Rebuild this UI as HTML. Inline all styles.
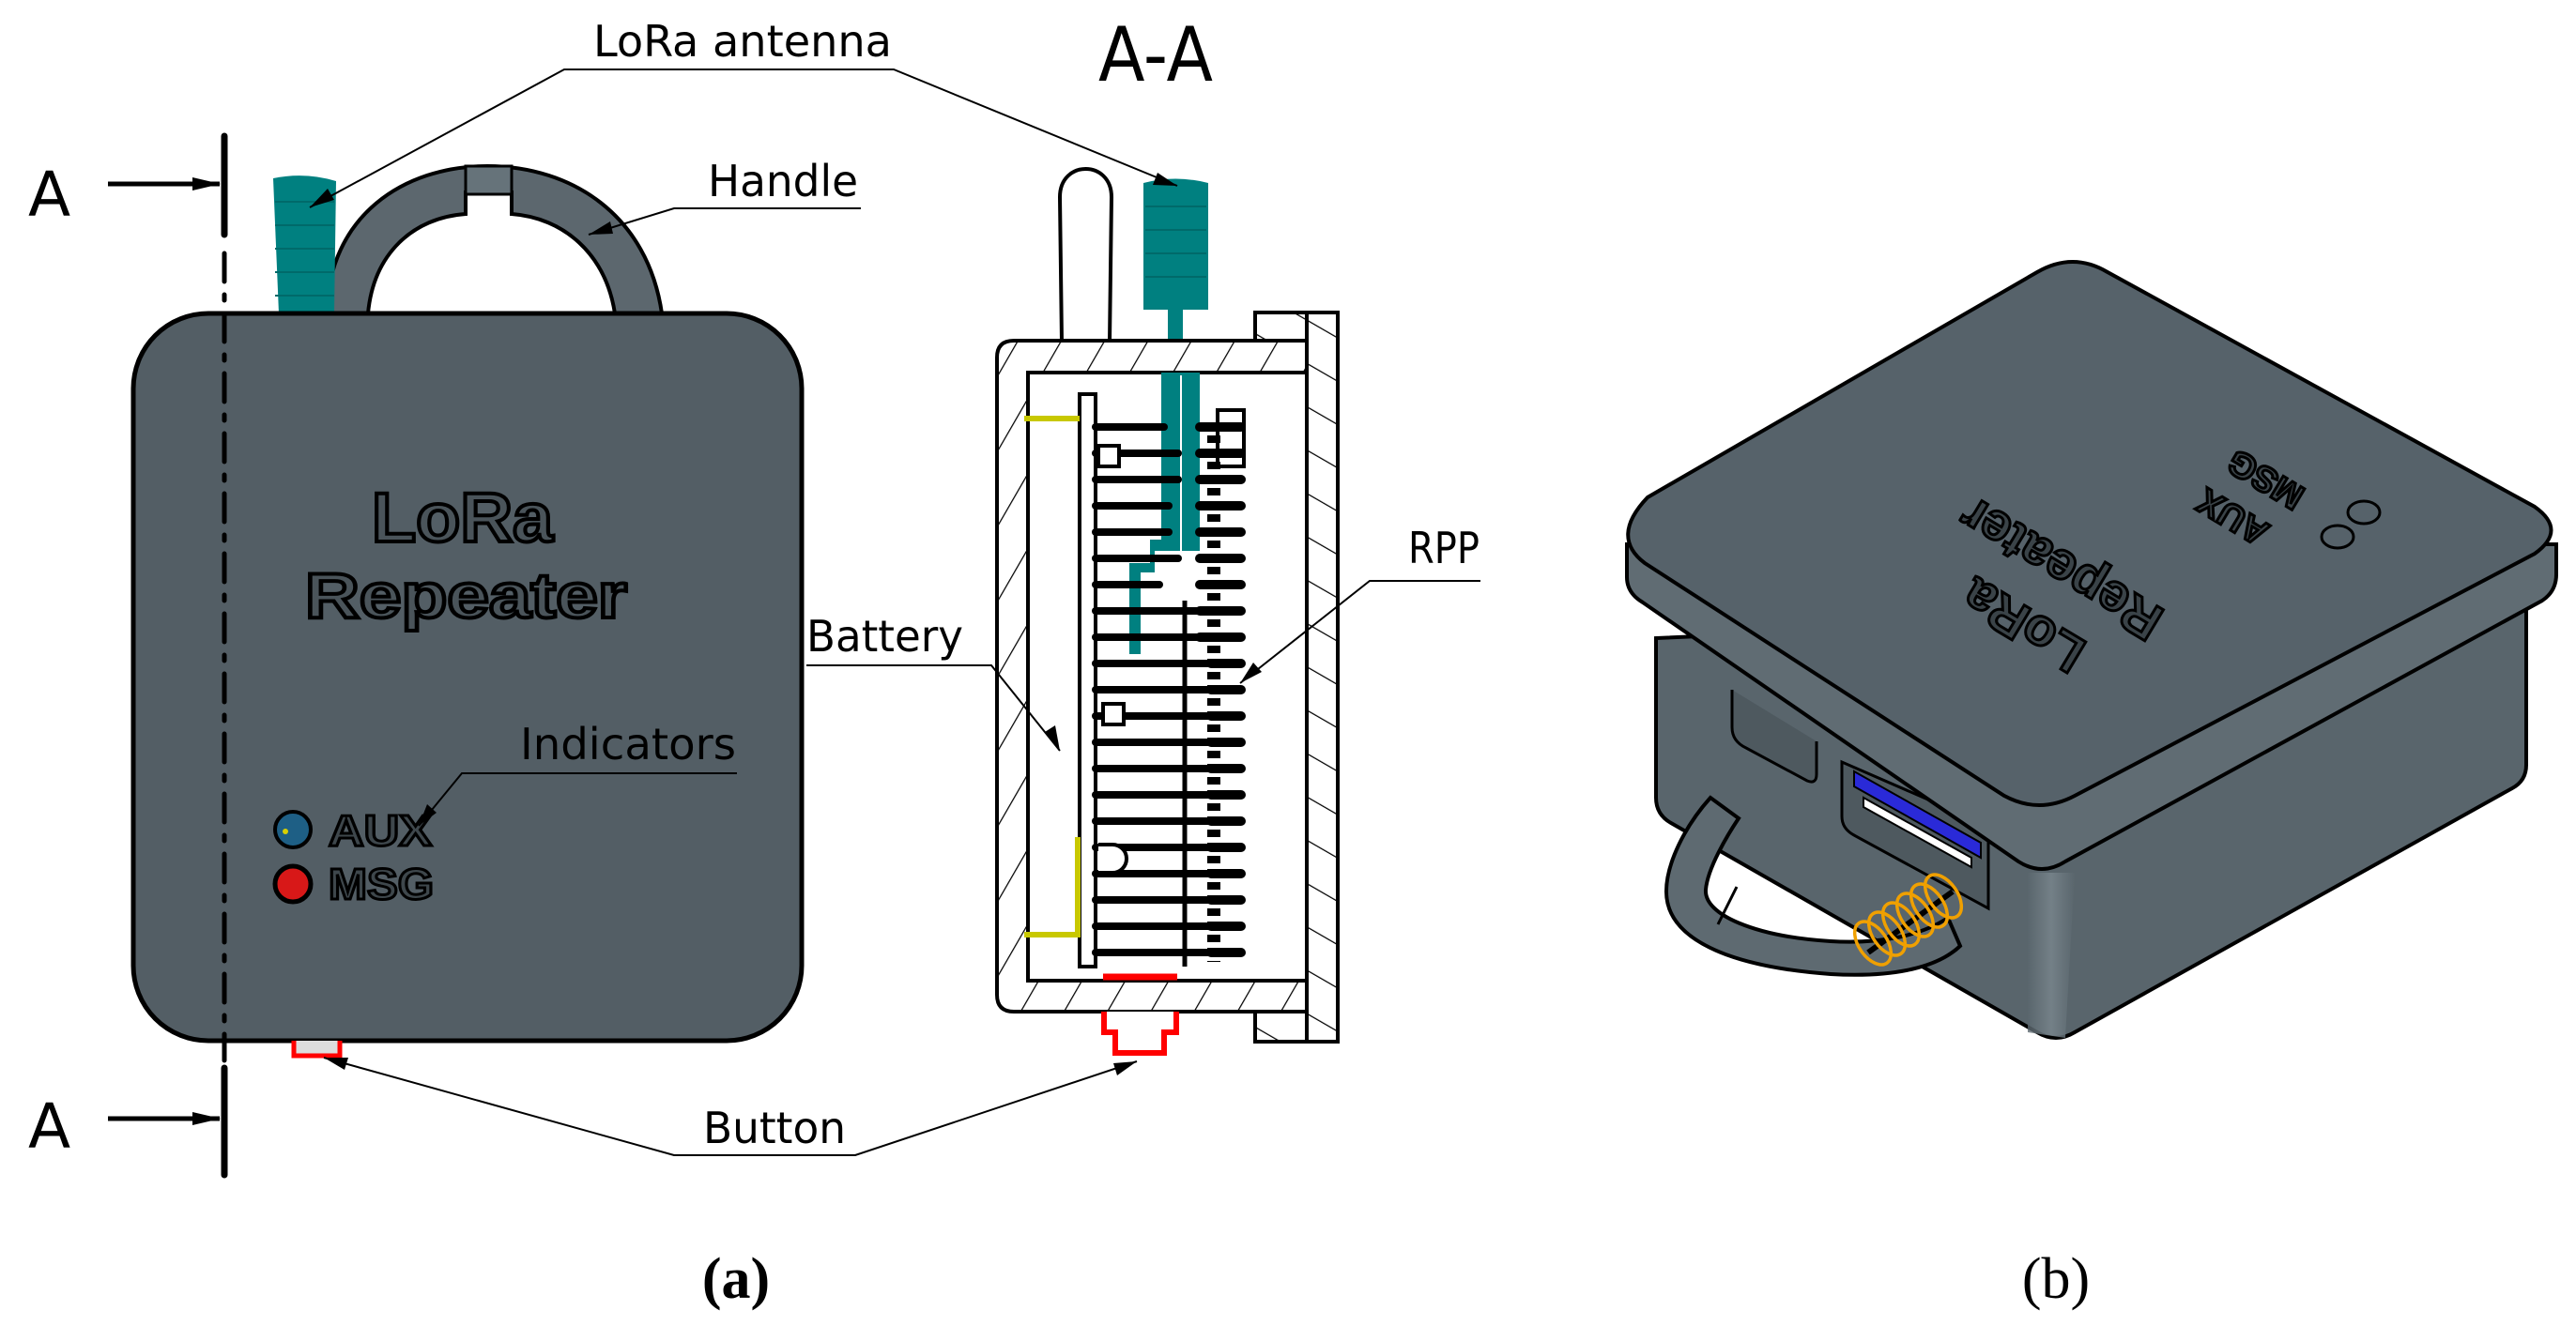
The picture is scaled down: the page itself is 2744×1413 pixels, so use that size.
<!DOCTYPE html>
<html><head><meta charset="utf-8"><style>
html,body{margin:0;padding:0;background:#fff;}
svg{display:block;}
.lbl{font-family:"DejaVu Sans Condensed","DejaVu Sans","Liberation Sans",sans-serif;font-size:46px;fill:#000;}
</style></head><body>
<svg width="2744" height="1413" viewBox="0 0 2744 1413" xmlns="http://www.w3.org/2000/svg">
<defs>
<pattern id="hatch" patternUnits="userSpaceOnUse" width="40" height="40" patternTransform="rotate(30)">
<rect width="40" height="40" fill="#fff"/>
<line x1="0" y1="0" x2="0" y2="40" stroke="#000" stroke-width="2.5"/>
</pattern>
<pattern id="hatch2" patternUnits="userSpaceOnUse" width="40" height="40" patternTransform="rotate(-60)">
<rect width="40" height="40" fill="#fff"/>
<line x1="0" y1="0" x2="0" y2="40" stroke="#000" stroke-width="2.5"/>
</pattern>
<marker id="arb" markerWidth="30" markerHeight="14" refX="29" refY="7" orient="auto" markerUnits="userSpaceOnUse" viewBox="0 0 30 14">
<path d="M0,0 L30,7 L0,14 Z" fill="#000"/>
</marker>
<linearGradient id="shade" x1="0" x2="1" y1="0" y2="0">
<stop offset="0" stop-color="#5a666d"/><stop offset="0.5" stop-color="#7a878e"/><stop offset="1" stop-color="#5a666d"/>
</linearGradient>
</defs>

<!-- ===== Front view ===== -->
<path d="M348,334 C350,230 430,177 519,177 C610,177 690,230 705,334 L655,334 C645,270 600,232 545,228 L545,205 L496,205 L496,228 C440,232 398,270 392,334 Z" fill="#5c676e" stroke="#000" stroke-width="4"/>
<rect x="496" y="177" width="49" height="30" fill="#66737a" stroke="#000" stroke-width="3"/>
<path d="M291,190 Q325,183 358,193 L356,334 L297,334 Z" fill="#008080"/>
<g stroke="#006a6a" stroke-width="2">
<line x1="293" y1="215" x2="356" y2="215"/><line x1="293" y1="240" x2="356" y2="240"/><line x1="293" y1="265" x2="356" y2="265"/><line x1="293" y1="290" x2="356" y2="290"/><line x1="293" y1="315" x2="356" y2="315"/>
</g>
<rect x="142" y="334" width="712" height="775" rx="80" ry="80" fill="#535e65" stroke="#000" stroke-width="5"/>
<text x="396" y="577" textLength="193" lengthAdjust="spacingAndGlyphs" font-family="Liberation Sans,sans-serif" font-weight="bold" font-size="74" fill="#4a545a" stroke="#000" stroke-width="4">LoRa</text>
<text x="325" y="658" textLength="343" lengthAdjust="spacingAndGlyphs" font-family="Liberation Sans,sans-serif" font-weight="bold" font-size="68" fill="#4a545a" stroke="#000" stroke-width="4">Repeater</text>
<circle cx="312" cy="884" r="19" fill="#1e5f85" stroke="#000" stroke-width="4"/>
<circle cx="304" cy="886" r="3" fill="#d8d000"/>
<circle cx="312" cy="942" r="19" fill="#d81818" stroke="#000" stroke-width="5"/>
<text x="350" y="901" textLength="110" lengthAdjust="spacingAndGlyphs" font-family="Liberation Sans,sans-serif" font-weight="bold" font-size="46" fill="#3e474c" stroke="#000" stroke-width="3">AUX</text>
<text x="350" y="958" textLength="112" lengthAdjust="spacingAndGlyphs" font-family="Liberation Sans,sans-serif" font-weight="bold" font-size="46" fill="#3e474c" stroke="#000" stroke-width="3">MSG</text>
<path d="M313,1109 L313,1125 L362,1125 L362,1109" fill="#ddd" stroke="#f00" stroke-width="5"/>
<line x1="239" y1="145" x2="239" y2="250" stroke="#000" stroke-width="7" stroke-linecap="round"/>
<line x1="239" y1="270" x2="239" y2="1130" stroke="#000" stroke-width="5" stroke-dasharray="30,14,6,14" stroke-linecap="round"/>
<line x1="239" y1="1138" x2="239" y2="1252" stroke="#000" stroke-width="7" stroke-linecap="round"/>
<line x1="115" y1="196" x2="234" y2="196" stroke="#000" stroke-width="5" marker-end="url(#arb)"/>
<line x1="115" y1="1192" x2="234" y2="1192" stroke="#000" stroke-width="5" marker-end="url(#arb)"/>
<text x="30" y="230" font-family="DejaVu Sans,sans-serif" font-size="66" fill="#000">A</text>
<text x="30" y="1223" font-family="DejaVu Sans,sans-serif" font-size="66" fill="#000">A</text>

<!-- ===== Section A-A ===== -->
<path d="M1131,365 L1129,210 C1129,170 1184,170 1184,210 L1182,365" fill="#fff" stroke="#000" stroke-width="4"/>
<path d="M1218,195 Q1252,186 1287,195 L1287,330 L1218,330 Z" fill="#008080"/>
<g stroke="#006a6a" stroke-width="2">
<line x1="1220" y1="220" x2="1285" y2="220"/><line x1="1220" y1="245" x2="1285" y2="245"/><line x1="1220" y1="270" x2="1285" y2="270"/><line x1="1220" y1="295" x2="1285" y2="295"/>
</g>
<rect x="1244" y="325" width="16" height="42" fill="#008080"/>
<rect x="1337" y="333" width="88" height="777" fill="url(#hatch2)" stroke="#000" stroke-width="4"/>
<path d="M1080,363 L1392,363 L1392,1078 L1080,1078 Q1062,1078 1062,1060 L1062,381 Q1062,363 1080,363 Z" fill="url(#hatch)" stroke="#000" stroke-width="4"/>
<rect x="1095" y="397" width="297" height="648" fill="#fff" stroke="#000" stroke-width="4"/>
<line x1="1392" y1="333" x2="1392" y2="1110" stroke="#000" stroke-width="4"/>
<path d="M1237,397 L1278,397 L1278,587 L1230,587 L1230,610 L1215,610 L1215,697 L1203,697 L1203,600 L1225,600 L1225,575 L1237,575 Z" fill="#008080"/>
<line x1="1258" y1="400" x2="1258" y2="640" stroke="#fff" stroke-width="2"/>
<rect x="1150" y="420" width="17" height="610" fill="#fff" stroke="#000" stroke-width="4"/>
<g stroke="#000" stroke-width="8" stroke-linecap="round">
<line x1="1167" y1="455" x2="1240" y2="455"/><line x1="1167" y1="483" x2="1255" y2="483"/><line x1="1167" y1="511" x2="1255" y2="511"/>
<line x1="1167" y1="539" x2="1245" y2="539"/><line x1="1167" y1="567" x2="1245" y2="567"/><line x1="1167" y1="595" x2="1255" y2="595"/>
<line x1="1167" y1="623" x2="1235" y2="623"/><line x1="1167" y1="651" x2="1285" y2="651"/><line x1="1167" y1="679" x2="1285" y2="679"/>
<line x1="1167" y1="707" x2="1290" y2="707"/><line x1="1167" y1="735" x2="1290" y2="735"/><line x1="1167" y1="763" x2="1290" y2="763"/>
<line x1="1167" y1="791" x2="1290" y2="791"/><line x1="1167" y1="819" x2="1290" y2="819"/><line x1="1167" y1="847" x2="1290" y2="847"/>
<line x1="1167" y1="875" x2="1290" y2="875"/><line x1="1167" y1="903" x2="1290" y2="903"/><line x1="1167" y1="931" x2="1290" y2="931"/>
<line x1="1167" y1="959" x2="1290" y2="959"/><line x1="1167" y1="987" x2="1290" y2="987"/><line x1="1167" y1="1015" x2="1290" y2="1015"/>
</g>
<g stroke="#000" stroke-width="10" stroke-linecap="round">
<line x1="1278" y1="455" x2="1322" y2="455"/><line x1="1278" y1="483" x2="1322" y2="483"/><line x1="1278" y1="511" x2="1322" y2="511"/><line x1="1278" y1="539" x2="1322" y2="539"/><line x1="1278" y1="567" x2="1322" y2="567"/><line x1="1278" y1="595" x2="1322" y2="595"/><line x1="1278" y1="623" x2="1322" y2="623"/><line x1="1278" y1="651" x2="1322" y2="651"/><line x1="1278" y1="679" x2="1322" y2="679"/><line x1="1290" y1="707" x2="1322" y2="707"/><line x1="1290" y1="735" x2="1322" y2="735"/><line x1="1290" y1="763" x2="1322" y2="763"/><line x1="1290" y1="791" x2="1322" y2="791"/><line x1="1290" y1="819" x2="1322" y2="819"/><line x1="1290" y1="847" x2="1322" y2="847"/><line x1="1290" y1="875" x2="1322" y2="875"/><line x1="1290" y1="903" x2="1322" y2="903"/><line x1="1290" y1="931" x2="1322" y2="931"/><line x1="1290" y1="959" x2="1322" y2="959"/><line x1="1290" y1="987" x2="1322" y2="987"/><line x1="1290" y1="1015" x2="1322" y2="1015"/>
</g>
<line x1="1293" y1="450" x2="1293" y2="1025" stroke="#000" stroke-width="14" stroke-dasharray="8,6"/>
<line x1="1262" y1="640" x2="1262" y2="1030" stroke="#000" stroke-width="5"/>
<rect x="1297" y="437" width="28" height="60" fill="none" stroke="#000" stroke-width="4"/>
<rect x="1170" y="475" width="22" height="22" fill="#fff" stroke="#000" stroke-width="4"/>
<rect x="1175" y="750" width="22" height="22" fill="#fff" stroke="#000" stroke-width="4"/>
<path d="M1170,900 L1185,900 A15,15 0 0 1 1185,930 L1170,930" fill="#fff" stroke="#000" stroke-width="4"/>
<line x1="1091" y1="446" x2="1150" y2="446" stroke="#c8c800" stroke-width="6"/>
<path d="M1148,892 L1148,996 L1091,996" fill="none" stroke="#c8c800" stroke-width="6"/>
<line x1="1175" y1="1041" x2="1254" y2="1041" stroke="#f00" stroke-width="7"/>
<path d="M1176,1078 L1176,1100 L1188,1100 L1188,1122 L1240,1122 L1240,1100 L1253,1100 L1253,1078" fill="#fff" stroke="#f00" stroke-width="6"/>
<text x="1170" y="86" font-family="DejaVu Sans,sans-serif" font-size="80" fill="#000" textLength="122" lengthAdjust="spacingAndGlyphs">A-A</text>

<!-- ===== Labels & leaders ===== -->
<g fill="none" stroke="#000" stroke-width="2">
<polyline points="330,221 601,74 952,74 1254,198" />
<polyline points="627,250 718,222 917,222"/>
<polyline points="446,880 492,824 785,824"/>
<polyline points="859,709 1056,709 1129,800"/>
<polyline points="345,1127 718,1231 911,1231 1211,1131"/>
<polyline points="1577,619 1459,619 1321,728"/>
</g>
<g fill="#000">
<path d="M330,221 L349,201 L356,213 Z"/>
<path d="M1254,198 L1228,197 L1233,184 Z"/>
<path d="M627,250 L650,236 L653,249 Z"/>
<path d="M446,880 L455,857 L465,866 Z"/>
<path d="M1129,800 L1113,780 L1124,773 Z"/>
<path d="M345,1127 L371,1127 L367,1140 Z"/>
<path d="M1211,1131 L1190,1146 L1186,1133 Z"/>
<path d="M1321,728 L1335,706 L1344,716 Z"/>
</g>
<text class="lbl" x="632" y="60" textLength="318" lengthAdjust="spacingAndGlyphs">LoRa antenna</text>
<text class="lbl" x="754" y="209" textLength="160" lengthAdjust="spacingAndGlyphs">Handle</text>
<text class="lbl" x="554" y="809" textLength="230" lengthAdjust="spacingAndGlyphs">Indicators</text>
<text class="lbl" x="859" y="694" textLength="167" lengthAdjust="spacingAndGlyphs">Battery</text>
<text class="lbl" x="749" y="1218" textLength="152" lengthAdjust="spacingAndGlyphs">Button</text>
<text class="lbl" x="1500" y="600" textLength="76" lengthAdjust="spacingAndGlyphs">RPP</text>

<!-- ===== Isometric (b) ===== -->
<!-- body -->
<path d="M1764,680 L1764,850 Q1764,868 1780,877 L2170,1100 Q2190,1112 2210,1100 L2676,840 Q2691,832 2691,815 L2691,640 Z" fill="#59656c" stroke="#000" stroke-width="4"/>
<path d="M2160,930 L2160,1100 L2200,1106 L2210,930 Z" fill="url(#shade)" opacity="0.8"/>
<!-- slots -->
<path d="M1845,735 L1845,775 Q1845,790 1860,797 L1925,832 Q1935,836 1935,825 L1935,790" fill="#4e595f" stroke="#000" stroke-width="3"/>
<path d="M1962,812 L1962,870 Q1962,883 1975,890 L2118,968 L2118,880 Z" fill="#4e595f" stroke="#000" stroke-width="3"/>
<path d="M1975,822 L2110,898 L2110,914 L1975,838 Z" fill="#2a2ad8" stroke="#000" stroke-width="2"/>
<path d="M1985,850 L2100,914 L2100,924 L1985,860 Z" fill="#fff" stroke="#000" stroke-width="2"/>
<!-- lid sides -->
<path d="M1733,580 L1733,615 Q1733,632 1750,642 L2150,918 Q2175,934 2200,918 L2708,640 Q2723,630 2723,612 L2723,580 Z" fill="#606c73" stroke="#000" stroke-width="4"/>
<!-- lid top -->
<path d="M1755,530 L2170,290 Q2208,268 2245,290 L2700,540 Q2735,565 2700,590 L2210,848 Q2172,868 2135,848 L1752,600 Q1715,572 1755,530 Z" fill="#56626a" stroke="#000" stroke-width="4"/>
<g font-family="Liberation Sans,sans-serif" font-weight="bold" fill="#3a4348" stroke="#000" stroke-width="3">
<text transform="translate(2165,650) rotate(211)" font-size="56" text-anchor="middle">LoRa</text>
<text transform="translate(2205,590) rotate(211)" font-size="56" text-anchor="middle">Repeater</text>
<text transform="translate(2420,500) rotate(211)" font-size="38" text-anchor="middle">MSG</text>
<text transform="translate(2385,540) rotate(211)" font-size="38" text-anchor="middle">AUX</text>
</g>
<ellipse cx="2518" cy="546" rx="17" ry="12" fill="none" stroke="#000" stroke-width="3"/>
<ellipse cx="2490" cy="572" rx="17" ry="12" fill="none" stroke="#000" stroke-width="3"/>
<!-- handle tube -->
<path d="M1822,850 C1795,880 1775,920 1775,950 C1775,1000 1840,1030 1950,1038 C2020,1042 2065,1030 2088,1008 L2075,978 C2045,998 2000,1006 1950,1003 C1870,998 1815,975 1817,948 C1819,925 1840,890 1852,872 Z" fill="#5e6a71" stroke="#000" stroke-width="4"/>
<path d="M1830,985 L1850,945" stroke="#000" stroke-width="3"/>
<!-- spring -->
<path d="M1990,1015 L2080,950" fill="none" stroke="#000" stroke-width="6"/>
<g fill="none" stroke="#f0a000" stroke-width="3.5">
<ellipse cx="1995" cy="1005" rx="15" ry="26" transform="rotate(-35 1995 1005)"/>
<ellipse cx="2010" cy="995" rx="15" ry="26" transform="rotate(-35 2010 995)"/>
<ellipse cx="2025" cy="985" rx="15" ry="26" transform="rotate(-35 2025 985)"/>
<ellipse cx="2040" cy="975" rx="15" ry="26" transform="rotate(-35 2040 975)"/>
<ellipse cx="2055" cy="965" rx="15" ry="26" transform="rotate(-35 2055 965)"/>
<ellipse cx="2070" cy="955" rx="15" ry="26" transform="rotate(-35 2070 955)"/>
</g>

<text x="784" y="1383" text-anchor="middle" font-family="Liberation Serif,serif" font-weight="bold" font-size="62">(a)</text>
<text x="2190" y="1383" text-anchor="middle" font-family="Liberation Serif,serif" font-size="62">(b)</text>
</svg>
</body></html>
